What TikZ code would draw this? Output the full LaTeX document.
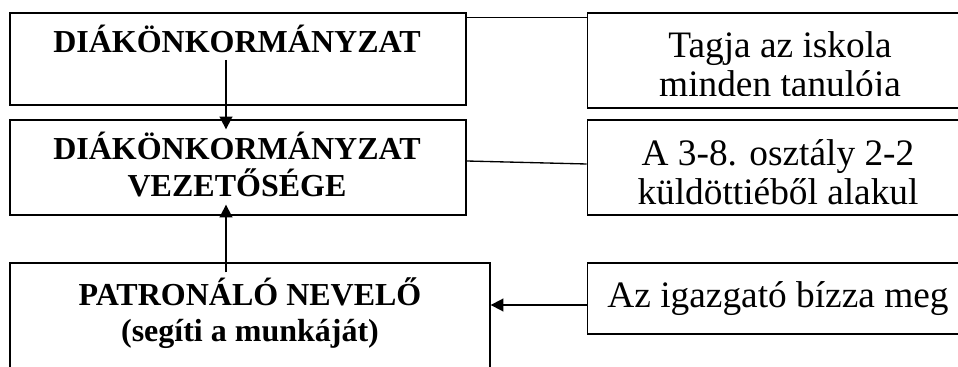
\documentclass[tikz,border=0pt]{standalone}
\usepackage{fontspec}
\setmainfont{Liberation Serif}
\usetikzlibrary{arrows.meta, positioning}

\begin{document}
\begin{tikzpicture}[x=0.75pt,y=-0.75pt,>={Triangle[length=9.5pt,width=9.5pt]},
        box/.style={draw,line width=1pt,rectangle,inner sep=0pt},
        head/.style={font=\bfseries\fontsize{24}{27.75}\selectfont,align=center,inner sep=0pt,anchor=base},
        note/.style={font=\fontsize{28}{29.5}\selectfont,align=center,inner sep=0pt,anchor=base},
        arr/.style={->,line width=1.3pt},
        link/.style={line width=1pt}]

      \useasboundingbox (0,0) rectangle (958,367);
      \clip (0,0) rectangle (958,367);

      % left column
      \node[box,minimum width=342pt,minimum height=69pt]     (dk)  at (238,59)    {};
      \node[box,minimum width=342pt,minimum height=71.25pt]  (dkv) at (238,167.5) {};
      \node[box,minimum width=360pt,minimum height=102.75pt] (pn)  at (250,331.5) {};

      % right column
      \node[box,minimum width=288pt,minimum height=71.25pt,right=90pt of dk.north east,anchor=north west]  (tag) {};
      \node[box,minimum width=288pt,minimum height=71.25pt,right=90pt of dkv.north east,anchor=north west] (kul) {};
      \node[box,minimum width=288pt,minimum height=53.25pt,right=72pt of pn.north east,anchor=north west]  (igz) {};

      % texts (base = last line)
      \node[head] (dkt)  at (237,53)  {DIÁKÖNKORMÁNYZAT};
      \node[head] (dkvt) at (237,197) {DIÁKÖNKORMÁNYZAT\\VEZETŐSÉGE};
      \node[head] (pnt)  at (250,342) {PATRONÁLÓ NEVELŐ\\(segíti a munkáját)};
      \begin{scope}
        \clip (586,13) rectangle (970,95.5);
        \node[note] (tagt) at (780,97) {Tagja az iskola\\minden tanulója};
      \end{scope}
      \node[note] (kult) at (778,205) {A 3-8. osztály 2-2\\küldöttiéből alakul};
      \node[note] (igzt) at (778,308) {Az igazgató bízza meg};

      % connectors
      \draw[link] ([shift={(0,5)}]dk.north east) -- ([shift={(0,5)}]tag.north west);
      \draw[link] ([shift={(0,-6.5)}]dkv.east) -- ([shift={(0,-3.5)}]kul.west);
      \draw[arr] ([shift={(-12,1)}]dk.center) -- ([shift={(-12,10)}]dkv.north);
      \draw[arr] ([shift={(-24,10)}]pn.north) -- ([shift={(-12,-11)}]dkv.south);
      \coordinate (a3) at ([shift={(0,6.5)}]igz.west);
      \draw[arr] (a3) -- (a3 -| pn.east);
    \end{tikzpicture}
\end{document}
